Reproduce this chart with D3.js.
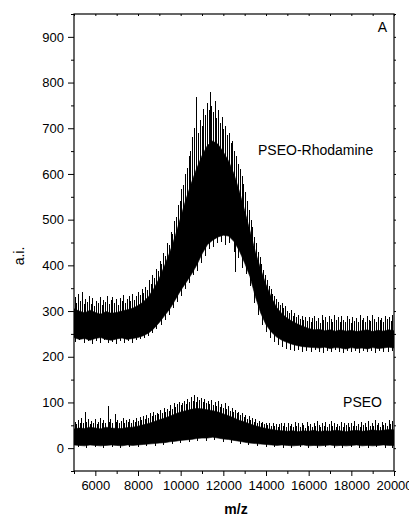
<!DOCTYPE html>
<html>
<head>
<meta charset="utf-8">
<script src="https://cdn.jsdelivr.net/npm/d3@7"></script>
<style>
  body { margin: 0; background: #fff; }
  text { font-family: "Liberation Sans", Arial, sans-serif; fill: #000; }
</style>
</head>
<body>
<svg id="chart" width="409" height="516"></svg>
<script>

// m/z sample grid (Da)
const mz_grid = [
    5000,5250,5500,5750,6000,6250,6500,6750,7000,7250,
    7500,7750,8000,8250,8500,8750,9000,9250,9500,9750,
    10000,10250,10500,10750,11000,11250,11500,11750,12000,12250,
    12500,12750,13000,13250,13500,13750,14000,14250,14500,14750,
    15000,15250,15500,15750,16000,16250,16500,16750,17000,17250,
    17500,17750,18000,18250,18500,18750,19000,19250,19500,19750,
    20000];

// PSEO-Rhodamine: upper / lower edge of the dense noise band (a.i.)
const rho_hi = [
    305,300,296,302,297,293,299,295,297,300,
    303,306,312,320,332,350,372,400,430,465,
    505,545,580,612,640,662,672,665,648,628,
    600,562,520,475,430,392,358,330,308,294,
    284,277,271,266,262,259,260,257,259,256,
    259,256,258,255,257,259,255,258,256,259,
    257];
const rho_lo = [
    242,238,240,236,240,242,238,236,239,241,
    238,240,242,246,252,262,275,290,305,325,
    345,362,380,400,425,445,455,462,466,464,
    452,432,405,375,332,296,270,254,243,236,
    231,227,224,222,221,220,219,221,218,220,
    219,217,220,218,219,217,220,218,219,221,
    219];

// PSEO: upper / lower edge of the dense noise band
const pseo_hi = [
    42,44,43,46,44,42,46,44,43,43,
    45,46,48,51,54,58,62,66,70,75,
    79,82,85,87,86,84,82,79,75,71,
    66,61,57,53,49,46,43,41,39,38,
    37,38,36,38,37,39,36,38,37,39,
    38,36,38,39,37,38,40,38,39,41,
    40];
const pseo_lo = [
    7,6,5,7,6,5,6,7,6,5,
    7,6,7,8,9,10,11,12,14,15,
    17,18,19,21,22,22,24,22,20,19,
    17,15,13,11,10,9,8,7,6,7,
    6,5,6,7,5,6,5,6,7,5,
    6,5,6,7,5,6,5,6,7,6,
    6];

// noise spikes above the bands [m/z, a.i.]
const rho_spikes = [
    [5060,330],[5140,318],[5230,338],[5310,322],[5390,342],[5480,315],[5560,326],[5650,320],
    [5720,334],[5810,316],[5890,328],[5980,312],[6060,322],[6150,318],[6230,330],[6320,314],
    [6400,325],[6480,319],[6570,332],[6650,316],[6740,324],[6820,330],[6910,318],[6990,326],
    [7080,314],[7160,328],[7250,321],[7330,335],[7420,318],[7500,327],[7590,334],[7670,322],
    [7760,338],[7840,325],[7930,333],[8010,341],[8100,335],[8190,348],[8270,340],[8360,352],
    [8440,346],[8530,368],[8610,360],[8700,378],[8780,372],[8870,392],[8950,388],[9040,410],
    [9120,402],[9210,428],[9290,420],[9380,450],[9460,444],[9550,472],[9630,468],[9720,498],
    [9800,505],[9890,532],[9970,540],[10060,568],[10140,575],[10230,600],[10310,612],[10400,640],
    [10480,650],[10570,680],[10650,700],[10750,769],[10830,690],[10910,718],[11000,705],[11080,742],
    [11160,728],[11250,755],[11330,740],[11375,780],[11450,748],[11530,735],[11610,760],[11690,722],
    [11780,740],[11860,712],[11940,725],[12030,698],[12110,705],[12200,685],[12280,690],[12370,668],
    [12450,672],[12540,650],[12620,640],[12710,622],[12790,610],[12880,595],[12960,578],[13050,560],
    [13130,540],[13220,522],[13300,500],[13390,485],[13470,462],[13560,450],[13640,430],[13730,418],
    [13810,402],[13900,390],[13980,378],[14070,368],[14150,355],[14240,348],[14320,338],[14410,332],
    [14490,326],[14580,320],[14660,314],[14750,318],[14830,306],[14920,310],[15010,300],[15100,295],
    [15180,302],[15270,290],[15350,296],[15440,286],[15520,292],[15610,282],[15690,290],[15780,280],
    [15860,288],[15950,278],[16030,286],[16120,276],[16200,284],[16290,290],[16370,278],[16460,285],
    [16540,274],[16630,292],[16710,280],[16800,287],[16880,276],[16970,290],[17050,282],[17140,276],
    [17220,291],[17310,280],[17390,286],[17480,275],[17560,289],[17650,281],[17730,277],[17820,290],
    [17900,283],[17990,274],[18070,288],[18160,279],[18240,285],[18330,276],[18410,292],[18500,280],
    [18580,284],[18670,275],[18750,289],[18840,281],[18920,278],[19010,291],[19090,282],[19180,276],
    [19260,288],[19350,280],[19430,285],[19520,277],[19600,290],[19690,282],[19770,287],[19860,279],
    [19940,292]];
// noise dips below the bands
const rho_dips = [
    [5080,233],[5280,236],[5470,230],[5660,234],[5850,228],[6040,235],[6230,231],[6420,236],
    [6610,229],[6800,233],[6990,227],[7180,234],[7370,230],[7560,235],[7750,229],[7940,236],
    [8130,238],[8320,240],[8510,246],[8700,252],[8890,260],[9080,270],[9270,280],[9460,292],
    [9650,306],[9840,320],[10030,332],[10220,348],[10410,362],[10600,378],[10790,388],[10980,405],
    [11170,420],[11360,435],[11550,440],[11740,448],[11930,452],[12120,445],[12310,450],[12500,430],
    [12550,385],[12690,415],[12880,395],[13070,380],[13260,355],[13450,318],[13640,292],[13830,270],
    [14020,255],[14210,242],[14400,233],[14590,226],[14780,222],[14970,218],[15160,215],[15350,213],
    [15540,214],[15730,211],[15920,213],[16110,210],[16300,214],[16490,211],[16680,209],[16870,213],
    [17060,210],[17250,214],[17440,211],[17630,209],[17820,213],[18010,210],[18200,212],[18390,209],
    [18580,213],[18770,210],[18960,212],[19150,209],[19340,213],[19530,211],[19720,210],[19910,213]];

const pseo_spikes = [
    [5050,58],[5130,52],[5210,62],[5290,55],[5370,66],[5450,54],[5516,80],[5600,57],
    [5680,63],[5760,52],[5840,60],[5920,55],[6000,64],[6080,53],[6160,58],[6240,66],
    [6320,54],[6400,61],[6480,56],[6594,92],[6650,58],[6730,63],[6810,55],[6922,75],
    [6980,57],[7060,62],[7140,54],[7220,60],[7300,66],[7380,55],[7460,61],[7540,57],
    [7620,64],[7700,55],[7780,62],[7860,58],[7940,65],[8020,60],[8100,68],[8180,62],
    [8260,70],[8340,64],[8420,72],[8500,66],[8580,76],[8660,70],[8740,80],[8820,72],
    [8900,78],[8980,74],[9060,84],[9140,78],[9220,88],[9300,80],[9380,86],[9460,82],
    [9540,94],[9620,86],[9700,98],[9780,90],[9860,96],[9940,102],[10020,94],[10100,98],
    [10180,104],[10260,96],[10340,108],[10420,100],[10500,112],[10580,104],[10650,116],[10730,102],
    [10810,112],[10890,105],[10970,110],[11050,100],[11130,108],[11210,98],[11290,104],[11370,96],
    [11450,106],[11530,94],[11610,100],[11690,92],[11770,103],[11850,90],[11930,96],[12010,88],
    [12090,98],[12170,86],[12250,92],[12330,82],[12410,88],[12490,80],[12570,84],[12650,76],
    [12730,80],[12810,72],[12890,76],[12970,68],[13050,72],[13130,64],[13210,70],[13290,62],
    [13370,66],[13450,58],[13530,63],[13610,56],[13690,60],[13770,54],[13850,58],[13930,52],
    [14010,56],[14090,50],[14170,55],[14250,49],[14330,54],[14410,48],[14490,53],[14570,47],
    [14650,52],[14730,56],[14810,48],[14890,54],[14970,47],[15050,55],[15130,48],[15210,53],
    [15290,46],[15370,58],[15450,49],[15530,54],[15610,47],[15690,56],[15770,50],[15850,45],
    [15930,57],[16010,49],[16090,53],[16170,46],[16250,55],[16330,48],[16410,59],[16490,50],
    [16570,46],[16650,54],[16730,49],[16810,57],[16890,47],[16970,52],[17050,60],[17130,48],
    [17210,55],[17290,46],[17370,53],[17450,49],[17530,58],[17610,47],[17690,54],[17770,50],
    [17850,56],[17930,46],[18010,55],[18090,49],[18170,60],[18250,48],[18330,53],[18410,47],
    [18490,57],[18570,50],[18650,54],[18730,46],[18810,59],[18890,49],[18970,55],[19050,48],
    [19130,61],[19210,50],[19290,54],[19370,47],[19450,58],[19530,51],[19610,55],[19690,49],
    [19770,62],[19850,53],[19930,60]];
const pseo_dips = [
    [5200,2],[5600,1],[6000,3],[6400,1],[6800,2],[7200,0],[7600,2],[8000,3],
    [8400,4],[8800,5],[9200,7],[9600,9],[10000,11],[10400,13],[10800,15],[11200,16],
    [11600,17],[12000,14],[12400,12],[12800,9],[13200,6],[13600,4],[14000,3],[14400,2],
    [14800,1],[15200,0],[15600,2],[16000,1],[16400,0],[16800,2],[17200,1],[17600,0],
    [18000,2],[18400,1],[18800,0],[19200,2],[19600,1],[19950,0]];

const x_major = [6000,8000,10000,12000,14000,16000,18000,20000];
const x_minor = [5000,7000,9000,11000,13000,15000,17000,19000];
const y_major = [0,100,200,300,400,500,600,700,800,900];
const y_minor = [-50,50,150,250,350,450,550,650,750,850,950];

const margins = {left: 74, right: 15, top: 14, bottom: 45};
const width = 409, height = 516;

const svg = d3.select("#chart");

const x = d3.scaleLinear().domain([5000, 20000]).range([margins.left, width - margins.right]);
const y = d3.scaleLinear().domain([-50, 950]).range([height - margins.bottom, margins.top]);

//clip the traces to the frame
svg.append("clipPath").attr("id", "plot_clip")
    .append("rect")
    .attr("x", x.range()[0]).attr("y", y.range()[1])
    .attr("width", x.range()[1] - x.range()[0])
    .attr("height", y.range()[0] - y.range()[1]);

const plot = svg.append("g").attr("clip-path", "url(#plot_clip)");

function draw_trace(hi, lo, spikes, dips) {
    const band = d3.area()
        .x((d, i) => x(mz_grid[i]))
        .y0((d, i) => y(lo[i]))
        .y1((d, i) => y(hi[i]));

    plot.append("path")
        .datum(hi)
        .attr("d", band)
        .attr("fill", "#000")
        .attr("stroke", "#000")
        .attr("stroke-width", 0.6);

    //spikes start from the middle of the band at the nearest grid point
    const mid = m => {
        const i = d3.bisectCenter(mz_grid, m);
        return (hi[i] + lo[i]) / 2;
    };

    plot.selectAll(null)
        .data(spikes.concat(dips))
        .join("line")
        .attr("x1", d => x(d[0]))
        .attr("x2", d => x(d[0]))
        .attr("y1", d => y(mid(d[0])))
        .attr("y2", d => y(d[1]))
        .attr("stroke", "#000")
        .attr("stroke-width", 1)
        .attr("shape-rendering", "crispEdges");
}

draw_trace(rho_hi, rho_lo, rho_spikes, rho_dips);
draw_trace(pseo_hi, pseo_lo, pseo_spikes, pseo_dips);

//axes
const fmt = d3.format("d");

function style_axis(g) {
    g.select(".domain").remove();
    g.selectAll("line").attr("stroke", "#000");
    g.selectAll("text").style("font-size", "13px");
}

svg.append("g")
    .attr("transform", "translate(0," + y.range()[0] + ")")
    .call(d3.axisBottom(x).tickValues(x_major).tickSize(5).tickPadding(5).tickFormat(fmt))
    .call(style_axis);
svg.append("g")
    .attr("transform", "translate(0," + y.range()[0] + ")")
    .call(d3.axisBottom(x).tickValues(x_minor).tickSize(3).tickFormat(""))
    .call(style_axis);

svg.append("g")
    .attr("transform", "translate(" + x.range()[0] + ",0)")
    .call(d3.axisLeft(y).tickValues(y_major).tickSize(6).tickPadding(4).tickFormat(fmt))
    .call(style_axis);
svg.append("g")
    .attr("transform", "translate(" + x.range()[0] + ",0)")
    .call(d3.axisLeft(y).tickValues(y_minor).tickSize(3).tickFormat(""))
    .call(style_axis);

//mirror ticks on top and right
svg.append("g")
    .attr("transform", "translate(0," + y.range()[1] + ")")
    .call(d3.axisBottom(x).tickValues(x_major.concat(x_minor)).tickSize(2).tickFormat(""))
    .call(style_axis);
svg.append("g")
    .attr("transform", "translate(" + x.range()[1] + ",0)")
    .call(d3.axisRight(y).tickValues(y_major.concat(y_minor)).tickSize(2).tickFormat(""))
    .call(style_axis);

//frame
svg.append("rect")
    .attr("x", x.range()[0]).attr("y", y.range()[1])
    .attr("width", x.range()[1] - x.range()[0])
    .attr("height", y.range()[0] - y.range()[1])
    .attr("fill", "none")
    .attr("stroke", "#000")
    .attr("stroke-width", 1.2);

//axis titles
svg.append("text")
    .attr("x", 236).attr("y", 514)
    .attr("text-anchor", "middle")
    .style("font-size", "14px")
    .style("font-weight", "bold")
    .text("m/z");

svg.append("text")
    .attr("transform", "translate(24,256) rotate(-90)")
    .attr("text-anchor", "middle")
    .style("font-size", "14px")
    .text("a.i.");

//trace labels
svg.append("text")
    .attr("x", 258).attr("y", 155)
    .style("font-size", "14px")
    .text("PSEO-Rhodamine");

svg.append("text")
    .attr("x", 382).attr("y", 407)
    .attr("text-anchor", "end")
    .style("font-size", "14px")
    .text("PSEO");

svg.append("text")
    .attr("x", 387).attr("y", 32)
    .attr("text-anchor", "end")
    .style("font-size", "14px")
    .text("A");

</script>
</body>
</html>
